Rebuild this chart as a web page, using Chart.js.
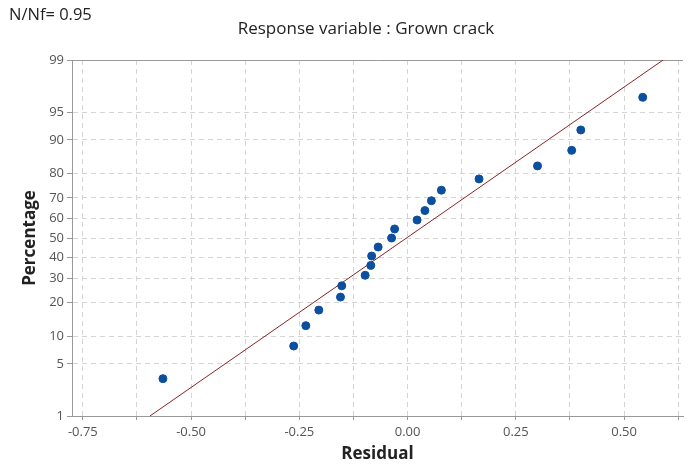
<!DOCTYPE html>
<html>
<head>
<meta charset="utf-8">
<script src="https://cdn.jsdelivr.net/npm/chart.js@4/dist/chart.umd.min.js"></script>
<style>
  html, body { margin: 0; padding: 0; background: #fff; }
  #wrap { width: 688px; height: 466px; position: relative; }
</style>
</head>
<body>
<div id="wrap"><canvas id="probChart"></canvas></div>
<script>
// Residuals and their plotted percentages
const residuals = [-0.565, -0.263, -0.235, -0.205, -0.155, -0.152, -0.098, -0.085, -0.083, -0.068,
                   -0.037, -0.030, 0.022, 0.040, 0.055, 0.078, 0.165, 0.300, 0.379, 0.400, 0.543];
const percents  = [3.3, 7.9, 12.6, 17.3, 22.0, 26.6, 31.3, 36.0, 40.7, 45.3,
                   50.0, 54.7, 59.3, 64.0, 68.7, 73.4, 78.0, 82.7, 87.4, 92.1, 96.7];

// fitted normal line endpoints
const fitX   = [-0.595, 0.590];
const fitPct = [1, 99];

// axis ticks
const yTickPct = [1, 5, 10, 20, 30, 40, 50, 60, 70, 80, 90, 95, 99];
const xTicks = [-0.75, -0.625, -0.5, -0.375, -0.25, -0.125, 0, 0.125, 0.25, 0.375, 0.5, 0.625];
const xLabels = ['-0.75', '', '-0.50', '', '-0.25', '', '0.00', '', '0.25', '', '0.50', ''];

// inverse standard normal (probability scale)
function normInv(p) {
    const a = [-39.69683028665376, 220.9460984245205, -275.9285104469687, 138.3577518672690, -30.66479806614716, 2.506628277459239];
    const b = [-54.47609879822406, 161.5858368580409, -155.6989798598866, 66.80131188771972, -13.28068155288572];
    const c = [-0.007784894002430293, -0.3223964580411365, -2.400758277161838, -2.549732539343734, 4.374664141464968, 2.938163982698783];
    const d = [0.007784695709041462, 0.3224671290700398, 2.445134137142996, 3.754408661907416];
    const pl = 0.02425;
    let q, r;
    if (p < pl) {
        q = Math.sqrt(-2 * Math.log(p));
        return (((((c[0]*q+c[1])*q+c[2])*q+c[3])*q+c[4])*q+c[5]) / ((((d[0]*q+d[1])*q+d[2])*q+d[3])*q+1);
    } else if (p <= 1 - pl) {
        q = p - 0.5; r = q * q;
        return (((((a[0]*r+a[1])*r+a[2])*r+a[3])*r+a[4])*r+a[5])*q / (((((b[0]*r+b[1])*r+b[2])*r+b[3])*r+b[4])*r+1);
    }
    q = Math.sqrt(-2 * Math.log(1 - p));
    return -(((((c[0]*q+c[1])*q+c[2])*q+c[3])*q+c[4])*q+c[5]) / ((((d[0]*q+d[1])*q+d[2])*q+d[3])*q+1);
}
const z = pct => normInv(pct / 100);

const FONT = '"Open Sans", "Noto Sans", sans-serif';

// header texts + solid top frame line
const headerText = {
    id: 'headerText',
    beforeDatasetsDraw(chart) {
        const { ctx, chartArea } = chart;
        ctx.save();
        ctx.strokeStyle = '#999';
        ctx.lineWidth = 1;
        ctx.beginPath();
        ctx.moveTo(chartArea.left, chartArea.top + 0.5);
        ctx.lineTo(chartArea.right, chartArea.top + 0.5);
        ctx.stroke();
        ctx.restore();
    },
    afterDraw(chart) {
        const c = chart.ctx;
        c.save();
        c.fillStyle = '#222';
        c.textBaseline = 'middle';
        c.font = '16.5px ' + FONT;
        c.textAlign = 'left';
        c.fillText('N/Nf= 0.95', 9, 15);
        c.textAlign = 'center';
        c.font = '17px ' + FONT;
        c.fillText('Response variable : Grown crack', 366, 29);
        c.restore();
    }
};

new Chart(document.getElementById('probChart'), {
    type: 'scatter',
    data: {
        datasets: [
            {
                label: 'Fit',
                data: fitX.map((x, i) => ({ x: x, y: z(fitPct[i]) })),
                showLine: true,
                borderColor: '#8b2323',
                borderWidth: 1,
                pointRadius: 0,
                order: 2
            },
            {
                label: 'Residual',
                data: residuals.map((x, i) => ({ x: x, y: z(percents[i]) })),
                backgroundColor: '#0b4f9e',
                borderColor: '#0b4f9e',
                pointRadius: 4,
                order: 1
            }
        ]
    },
    options: {
        responsive: true,
        maintainAspectRatio: false,
        animation: false,
        layout: { padding: { top: 60, left: 20, right: 0, bottom: 0 } },
        plugins: {
            legend: { display: false },
            tooltip: { enabled: false }
        },
        scales: {
            x: {
                type: 'linear',
                min: -0.775,
                max: 0.636,
                afterBuildTicks: axis => { axis.ticks = xTicks.map(v => ({ value: v })); },
                afterFit: axis => { axis.height = 50; },
                ticks: {
                    autoSkip: false,
                    maxRotation: 0,
                    color: '#555',
                    font: { family: FONT, size: 13 },
                    padding: 4,
                    callback: (v, i) => xLabels[i]
                },
                grid: {
                    color: '#d4d4d4',
                    tickLength: 4,
                    tickColor: '#999',
                    tickBorderDash: []
                },
                border: { color: '#999', width: 1, dash: [5, 4] },
                title: {
                    display: true,
                    text: 'Residual',
                    color: '#222',
                    font: { family: FONT, size: 17, weight: 'bold' },
                    padding: { top: 0, bottom: 2 }
                }
            },
            y: {
                type: 'linear',
                min: z(1),
                max: z(99),
                afterBuildTicks: axis => { axis.ticks = yTickPct.map(p => ({ value: z(p) })); },
                afterFit: axis => { axis.width = 52; },
                ticks: {
                    autoSkip: false,
                    color: '#555',
                    font: { family: FONT, size: 13 },
                    padding: 3,
                    callback: (v, i) => String(yTickPct[i])
                },
                grid: {
                    color: '#d4d4d4',
                    tickLength: 5,
                    tickColor: '#999',
                    tickBorderDash: []
                },
                border: { color: '#999', width: 1, dash: [5, 4] },
                title: {
                    display: true,
                    text: 'Percentage',
                    color: '#222',
                    font: { family: FONT, size: 17, weight: 'bold' },
                    padding: { top: 0, bottom: 4 }
                }
            }
        }
    },
    plugins: [headerText]
});
</script>
</body>
</html>
